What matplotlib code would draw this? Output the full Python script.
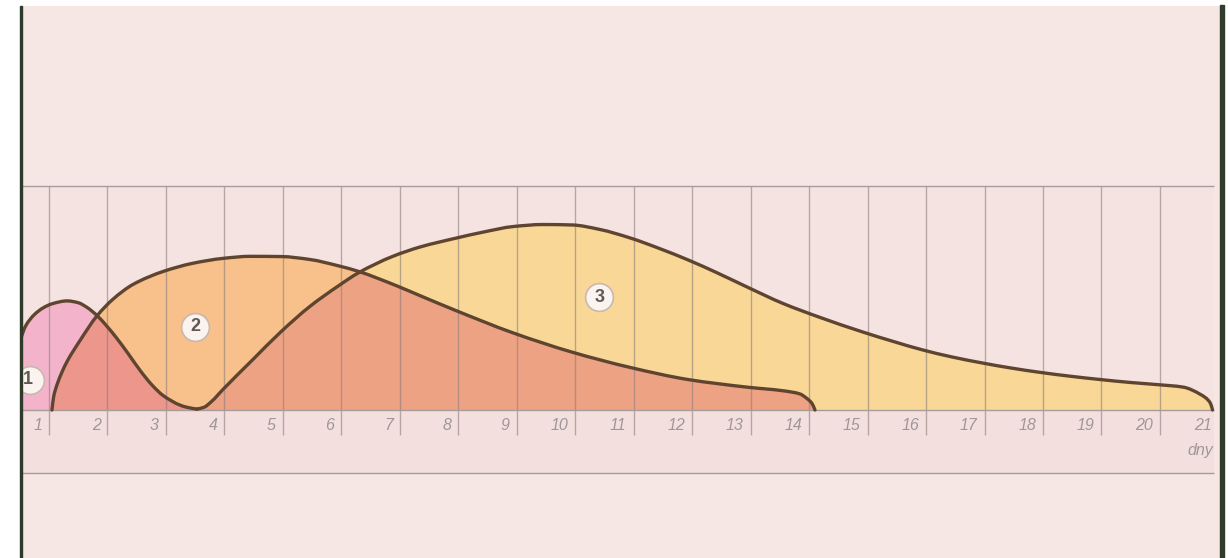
import matplotlib.pyplot as plt
import numpy as np
from matplotlib.patches import Rectangle, PathPatch
from matplotlib.path import Path

# odczyty z rysunku: os x w dniach (linie siatki na 1..20), os y w jednostkach umownych (gorna linia = 100)
days_1 = [0.45, 0.52, 0.60, 0.75, 0.90, 1.05, 1.31, 1.50, 1.65, 1.82, 1.99, 2.16,
          2.35, 2.56, 2.76, 2.95, 3.24, 3.36, 3.53]
curve_1 = [25.0, 32.0, 37.5, 42.6, 45.6, 47.4, 48.7, 47.9, 45.8, 42.2, 37.4, 32.0,
           25.3, 17.6, 11.2, 6.5, 2.2, 1.2, 0.4]

days_2 = [1.05, 1.08, 1.14, 1.22, 1.31, 1.53, 1.82, 2.10, 2.44, 2.97, 3.46, 3.98,
          4.44, 4.97, 5.46, 5.96, 6.29, 6.95, 7.35, 7.94, 8.94, 9.95, 10.94, 11.93,
          12.94, 13.55, 13.84, 13.96, 14.05, 14.10]
curve_2 = [0.0, 6.0, 11.5, 16.8, 21.7, 31.0, 42.0, 49.6, 56.1, 62.0, 65.5, 67.7,
           68.6, 68.5, 67.2, 64.3, 61.9, 55.4, 51.0, 44.6, 34.4, 25.8, 19.0, 13.6,
           10.2, 8.6, 7.2, 5.2, 2.9, 0.0]

days_3 = [3.53, 3.65, 3.78, 3.98, 4.49, 4.97, 5.46, 5.96, 6.29, 6.88, 7.35, 7.94,
          8.44, 8.94, 9.45, 9.95, 10.42, 10.94, 11.45, 11.93, 12.43, 12.94, 13.55,
          14.19, 14.92, 15.44, 15.93, 16.44, 16.96, 17.44, 17.95, 18.46, 18.98,
          19.49, 19.97, 20.40, 20.69, 20.86, 20.90]
curve_3 = [0.4, 1.2, 3.8, 9.3, 22.6, 35.0, 46.2, 55.6, 61.2, 68.6, 72.8, 76.6,
           79.5, 81.9, 82.8, 82.6, 80.6, 76.8, 72.0, 67.0, 61.2, 54.9, 47.6,
           41.3, 34.8, 30.6, 26.9, 23.7, 21.0, 18.8, 16.8, 15.1, 13.6,
           12.3, 11.3, 10.2, 7.0, 3.2, 0.0]

grid_days = list(range(1, 21))
tick_labels = [str(d) for d in range(1, 22)]
marker_labels = ['1', '2', '3']
marker_x = [0.68, 3.50, 10.41]
marker_y = [13.4, 37.1, 50.4]


def smooth_path(xs, ys, closed=False):
    # gladka linia przez odczytane punkty (krzywe Beziera, styczne jak w PCHIP)
    x = np.asarray(xs, float)
    y = np.asarray(ys, float)
    n = len(x)
    h = np.diff(x)
    d = np.diff(y) / h
    m = np.zeros(n)
    m[0], m[-1] = d[0], d[-1]
    for k in range(1, n - 1):
        if d[k - 1] * d[k] > 0:
            w1 = 2 * h[k] + h[k - 1]
            w2 = h[k] + 2 * h[k - 1]
            m[k] = (w1 + w2) / (w1 / d[k - 1] + w2 / d[k])
    verts = [(x[0], y[0])]
    codes = [Path.MOVETO]
    for i in range(n - 1):
        verts += [(x[i] + h[i] / 3, y[i] + m[i] * h[i] / 3),
                  (x[i + 1] - h[i] / 3, y[i + 1] - m[i + 1] * h[i] / 3),
                  (x[i + 1], y[i + 1])]
        codes += [Path.CURVE4] * 3
    if closed:
        verts += [(x[-1], 0), (x[0], 0), (x[0], y[0])]
        codes += [Path.LINETO, Path.LINETO, Path.CLOSEPOLY]
    return Path(verts, codes)


W, H = 1228, 558
px_day, px_unit = 58.47, 2.24
x_left = 1 + (22 - 49) / px_day
x_right = 1 + (1220 - 49) / px_day
x_grid_end = 1 + (1214 - 49) / px_day

fig = plt.figure(figsize=(W / 100, H / 100), dpi=100, facecolor='white')
ax = fig.add_axes([22 / W, 0, (1220 - 22) / W, (558 - 6) / H])
ax.set_facecolor('#f6e6e4')
ax.set_xlim(x_left, x_right)
ax.set_ylim((410 - 558) / px_unit, (410 - 6) / px_unit)
for s in ax.spines.values():
    s.set_visible(False)
ax.set_xticks([])
ax.set_yticks([])

band_low = (410 - 473) / px_unit
ax.add_patch(Rectangle((x_left, band_low), x_grid_end - x_left, -band_low,
                       color='#f3e0de', lw=0, zorder=0))
ax.add_patch(Rectangle((x_left, 0), x_grid_end - x_left, 100,
                       color='#f4e3e1', lw=0, zorder=0))

# wypelnienia
fill_3 = PathPatch(smooth_path(days_3, curve_3, True), color='#f9d897', lw=0, zorder=1)
fill_1 = PathPatch(smooth_path(days_1, curve_1, True), color='#f3b4cb', lw=0, zorder=1)
ax.add_patch(fill_3)
ax.add_patch(fill_1)
ax.add_patch(PathPatch(smooth_path(days_2, curve_2, True), color='#f8c08a', lw=0, zorder=2))
over_3 = ax.add_patch(PathPatch(smooth_path(days_2, curve_2, True), color='#eea284', lw=0, zorder=3))
over_3.set_clip_path(fill_3)
over_1 = ax.add_patch(PathPatch(smooth_path(days_2, curve_2, True), color='#ec968c', lw=0, zorder=3))
over_1.set_clip_path(fill_1)

# siatka
ax.vlines(grid_days, (410 - 435) / px_unit, 100, color='#8e7f7c', lw=1.0, alpha=0.6, zorder=4)
ax.hlines([100, 0, band_low], x_left, x_grid_end, color='#a89c9a', lw=1.0, zorder=4)

# krzywe
for xs, ys in [(days_1, curve_1), (days_3, curve_3), (days_2, curve_2)]:
    ax.add_patch(PathPatch(smooth_path(xs, ys), fill=False, edgecolor='#5f4530', lw=2.4,
                           joinstyle='round', capstyle='round', zorder=5))

# opisy osi
for i, lab in enumerate(tick_labels):
    ax.text(i + 1 - 7 / px_day, -6.7, lab, ha='right', va='center', style='italic',
            fontsize=11.5, color='#a0969a', family='Liberation Sans', zorder=6)
ax.text(1 + (1213 - 49) / px_day, -17.9, 'dny', ha='right', va='center', style='italic',
        fontsize=11.5, color='#a0969a', family='Liberation Sans', zorder=6)

# numerowane kolka
ax.scatter(marker_x, marker_y, s=400, color='#fbf3ef', edgecolors='#c9b8ad',
           linewidths=1.2, zorder=6)
for lab, mx, my in zip(marker_labels, marker_x, marker_y):
    ax.text(mx - (0.04 if lab == '1' else 0), my, lab, ha='center', va='center',
            fontsize=13, fontweight='bold', color='#5f5955',
            family='Liberation Sans', zorder=7)

# ramka slajdu
fig.add_artist(Rectangle((19.5 / W, 0), 2.5 / W, (558 - 6) / H,
                         transform=fig.transFigure, color='#2f3a2b'))
fig.add_artist(Rectangle((1220 / W, 0), 4 / W, (558 - 5) / H,
                         transform=fig.transFigure, color='#323c2d'))

fig.savefig('out.png', dpi=100, facecolor='white')
